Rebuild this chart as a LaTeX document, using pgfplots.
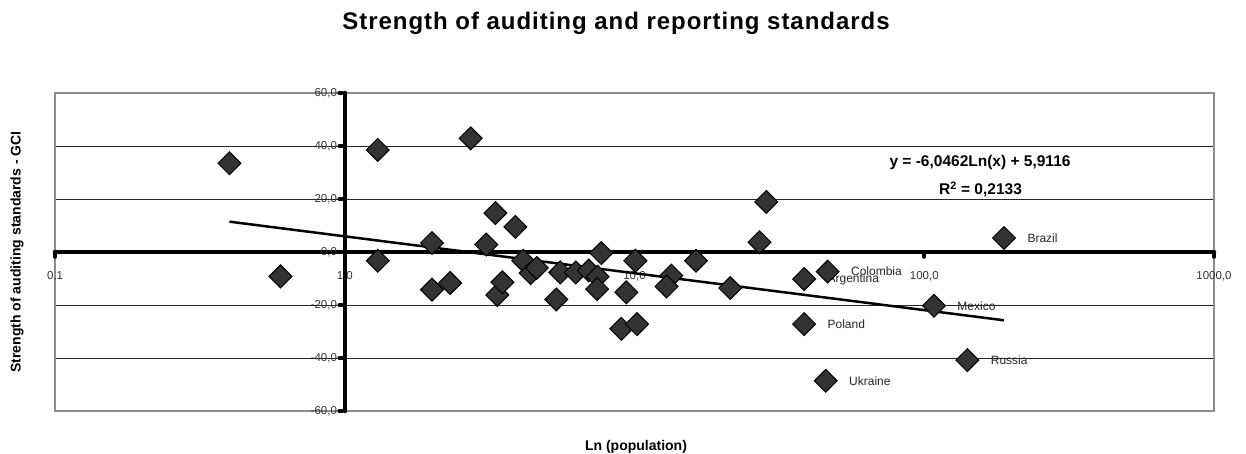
\documentclass[border=0pt]{standalone}
\usepackage{pgfplots}
\usepackage{pgfplotstable}
\pgfplotsset{compat=1.18}
\usepackage{fontspec}
\setmainfont{Liberation Sans}
\newfontfamily\titlefont{Liberation Sans}[LetterSpace=4]
\definecolor{mk}{HTML}{333333}
\definecolor{framec}{HTML}{8C8C8C}

\pgfplotstableread{
x y
0.40 33.5
0.60 -9.2
1.30 38.5
1.30 -3.3
2.00 3.4
2.00 -14.2
2.31 -11.7
2.72 42.9
3.08 2.8
3.31 14.7
3.36 -16.2
3.50 -11.4
3.88 9.5
4.13 -3.3
4.38 -8.0
4.60 -6.0
5.37 -17.9
5.54 -7.7
6.27 -7.7
6.95 -7.0
7.46 -9.3
7.43 -14.0
7.68 -0.4
9.00 -29.0
9.37 -15.2
10.2 -27.2
10.07 -3.3
13.4 -8.9
12.9 -13.0
16.3 -3.3
21.4 -13.6
27.0 3.7
28.5 18.9
}\unlabeled

\pgfplotstableread{
x y label
38.5 -10.2 Argentina
38.5 -27.2 Poland
46.4 -7.4 Colombia
45.7 -48.6 Ukraine
108 -20.3 Mexico
140.8 -40.8 Russia
188.5 5.3 Brazil
}\labeled

\pgfplotstableread{
x y
0.40 11.45
188.5 -25.77
}\trend

\begin{document}
\begin{tikzpicture}
\path[use as bounding box] (0pt,0pt) rectangle (1246pt,454pt);
% background: frame and gridlines
\begin{axis}[xmode=log, xmin=0.1, xmax=1000, ymin=-60, ymax=60,
  scale only axis, width=1159pt, height=318pt,
  at={(55pt,43pt)}, anchor=south west,
  axis lines=box, axis line style={framec, line width=1.4pt},
  xtick=\empty, ytick={-40,-20,20,40}, yticklabels={}, major tick length=0pt,
  xminorticks=false, yminorticks=false,
  ymajorgrids, grid style={black!85, line width=0.8pt}]
\end{axis}
% thick crossing axes
\begin{axis}[xmode=log, xmin=0.1, xmax=1000, ymin=-60, ymax=60,
  scale only axis, width=1159pt, height=318pt,
  at={(55pt,43pt)}, anchor=south west,
  xminorticks=false, yminorticks=false,
  axis lines=middle,
  axis line style={line width=4.5pt, line cap=round, black},
  every inner x axis line/.append style={-},
  every inner y axis line/.append style={-},
  xtick={0.1,1,10,100,1000},
  xticklabels={{0,1},{1,0},{10,0},{100,0},{1000,0}},
  ytick={-60,-40,-20,0,20,40,60},
  yticklabels={{-60,0},{-40,0},{-20,0},{0,0},{20,0},{40,0},{60,0}},
  hide obscured x ticks=false, hide obscured y ticks=false,
  tick style={line width=4.2pt, line cap=round, black},
  major tick length=2.5pt,
  xtick style={yshift=-3.5pt},
  ytick style={xshift=-4pt},
  ticklabel style={font=\fontsize{11.5}{12}\selectfont, text=black!80},
  xticklabel style={yshift=-15pt},
  yticklabel style={xshift=-3pt}]
\end{axis}
% data
\begin{axis}[xmode=log, xmin=0.1, xmax=1000, ymin=-60, ymax=60,
  scale only axis, width=1159pt, height=318pt,
  at={(55pt,43pt)}, anchor=south west,
  hide axis, clip=false]
\addplot[only marks, mark=square*, mark size=8.1pt,
  mark options={rotate=45, fill=mk, draw=black, line width=1pt}]
  table {\unlabeled};
\addplot[only marks, mark=square*, mark size=8.1pt,
  mark options={rotate=45, fill=mk, draw=black, line width=1pt},
  nodes near coords, point meta=explicit symbolic,
  nodes near coords style={anchor=west, inner sep=0pt, xshift=23pt,
    font=\fontsize{12}{13}\selectfont, text=black!85}]
  table[meta=label] {\labeled};
\addplot[black, line width=2.5pt, no marks] table {\trend};
\end{axis}
% texts
\node[anchor=base, font=\titlefont\bfseries\fontsize{24}{26}\selectfont] at (616pt,424.7pt) {Strength of auditing and reporting standards};
\node[anchor=base, font=\bfseries\fontsize{15.5}{17}\selectfont] at (980pt,287pt) {y = -6,0462Ln(x) + 5,9116};
\node[anchor=base, font=\bfseries\fontsize{15.5}{17}\selectfont] at (980.5pt,259pt) {R\textsuperscript{2} = 0,2133};
\node[font=\bfseries\fontsize{14}{15}\selectfont] at (636pt,7pt) {Ln (population)};
\node[rotate=90, font=\bfseries\fontsize{14}{15}\selectfont] at (17pt,202pt) {Strength of auditing standards - GCI};
\end{tikzpicture}
\end{document}
